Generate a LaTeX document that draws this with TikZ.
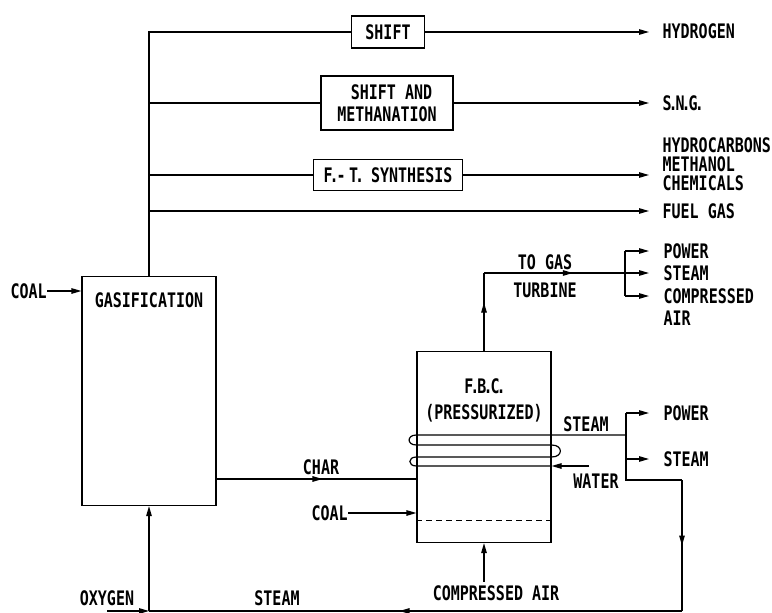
\documentclass[tikz,border=0pt]{standalone}
\usepackage{fontspec}
\newfontfamily\lblfont{DejaVu Sans Mono}[FakeStretch=0.75]
\usetikzlibrary{positioning,arrows.meta,decorations.markings}
\newcommand\tdot{\kern-3pt.\kern-2pt}

\begin{document}
\begin{tikzpicture}[x=1pt,y=-1pt,line width=1.2pt,
  font=\lblfont\bfseries\fontsize{20}{22}\selectfont,
  box/.style={draw,inner sep=0pt,align=center},
  lab/.style={inner sep=0pt,anchor=west},
  tip/.style={-{Triangle[length=10pt,width=5.5pt]}},
  midtip/.style={postaction={decorate},decoration={markings,
     mark=at position #1 with {\arrow{Triangle[length=10pt,width=5.5pt]}}}}]
\useasboundingbox (0,0) rectangle (772,613);
\coordinate (outx) at (649,0);
% process boxes
\node[box,minimum width=73pt,minimum height=32pt] (shift) at (388,32) {SHIFT};
\node[box,minimum width=132pt,minimum height=54pt] (meth) at (387,103) {\ SHIFT AND\\METHANATION};
\node[box,minimum width=149pt,minimum height=31pt] (ft) at (388,175) {F\tdot-\,T\tdot\ SYNTHESIS};
\node[box,minimum width=134pt,minimum height=229pt] (gas) at (149,391) {};
\node (gastxt) at (149,300) {GASIFICATION};
\node[box,minimum width=134pt,minimum height=191pt] (fbc) at (484,447) {};
\node[align=center] (fbctxt) at (484,400) {F\tdot B\tdot C\tdot\\[4pt](PRESSURIZED)};
% products
\node[lab] (hyd) at (662,31) {HYDROGEN};
\node[lab] (sng) at (662,103) {S\tdot N\tdot G\tdot};
\node[lab,align=left,font=\lblfont\bfseries\fontsize{20}{19}\selectfont] (hc) at (662,164) {HYDROCARBONS\\METHANOL\\CHEMICALS};
\node[lab] (fuel) at (662,211) {FUEL GAS};
\draw (gas.north) |- (shift.west);
\draw (gas.north |- meth.west) -- (meth.west);
\draw (gas.north |- ft.west) -- (ft.west);
\draw[tip] (gas.north |- fuel.west) -- (outx |- fuel.west);
\draw[tip] (shift.east) -- (outx |- shift.east);
\draw[tip] (meth.east) -- (outx |- meth.east);
\draw[tip] (ft.east) -- (outx |- ft.east);
% feeds
\node[lab] (coal) at (10,291) {COAL};
\draw[tip] (coal.east) -- (coal.east -| gas.west);
\node (chartxt) at (321,467) {CHAR};
\draw[midtip=0.53] (gas.east |- 0,479) -- (fbc.west |- 0,479);
\node[lab] (coal2) at (311,513) {COAL};
\draw[tip] (coal2.east) -- (coal2.east -| fbc.west);
\draw[line width=0.9pt,dash pattern=on 6pt off 4pt] (fbc.west |- 0,520) -- (fbc.east |- 0,520);
% coil
\coordinate (sj) at (626,435);
\draw (fbc.east |- 0,466) -- (fbc.west |- 0,466)
  to[out=180,in=180,looseness=2.5] (fbc.west |- 0,457) -- (fbc.east |- 0,457)
  to[out=0,in=0,looseness=2.5] (fbc.east |- 0,445) -- (fbc.west |- 0,445)
  to[out=180,in=180,looseness=2.5] (fbc.west |- 0,435) -- (sj);
\node (water) at (596,481) {WATER};
\coordinate (win) at (589,466);
\draw[tip] (win) -- (win -| fbc.east);
\node (stm) at (586,424) {STEAM};
\node[lab] (pow2) at (663,413) {POWER};
\node[lab] (stm2) at (663,459) {STEAM};
\coordinate (sr) at (682,480);
\draw (sj |- pow2.west) -- (sj |- sr) -- (sr);
\draw[tip] (sj |- pow2.west) -- (outx |- pow2.west);
\draw[tip] (sj |- stm2.west) -- (outx |- stm2.west);
% steam return and oxygen
\coordinate (bj) at (gas.south |- 0,611);
\coordinate (bc) at (sr |- bj);
\draw[midtip=0.5] (sr) -- (bc);
\draw[midtip=0.53] (bc) -- (bj);
\node (oxy) at (107,598) {OXYGEN};
\draw[tip] (oxy.south |- bj) -- (bj);
\draw[tip] (bj) -- (gas.south);
\node (stm3) at (277,598) {STEAM};
\node (cair) at (496,593) {COMPRESSED AIR};
\draw[tip] (cair.north -| fbc.south) -- (fbc.south);
% gas turbine
\coordinate (tg) at (fbc.north |- 0,273);
\coordinate (tj) at (625,273);
\draw[midtip=0.62] (fbc.north) -- (tg);
\draw[midtip=0.63] (tg) -- (tj);
\node (togas) at (545,262) {TO GAS};
\node (turb) at (545,290) {TURBINE};
\node[lab] (pow1) at (663,251) {POWER};
\node[lab] (stm1) at (663,273) {STEAM};
\node[lab] (comp) at (663,296) {COMPRESSED};
\node[lab] (air) at (663,318) {AIR};
\draw (tj |- pow1.west) -- (tj |- comp.west);
\draw[tip] (tj |- pow1.west) -- (outx |- pow1.west);
\draw[tip] (tj) -- (outx |- tj);
\draw[tip] (tj |- comp.west) -- (outx |- comp.west);
\end{tikzpicture}
\end{document}
